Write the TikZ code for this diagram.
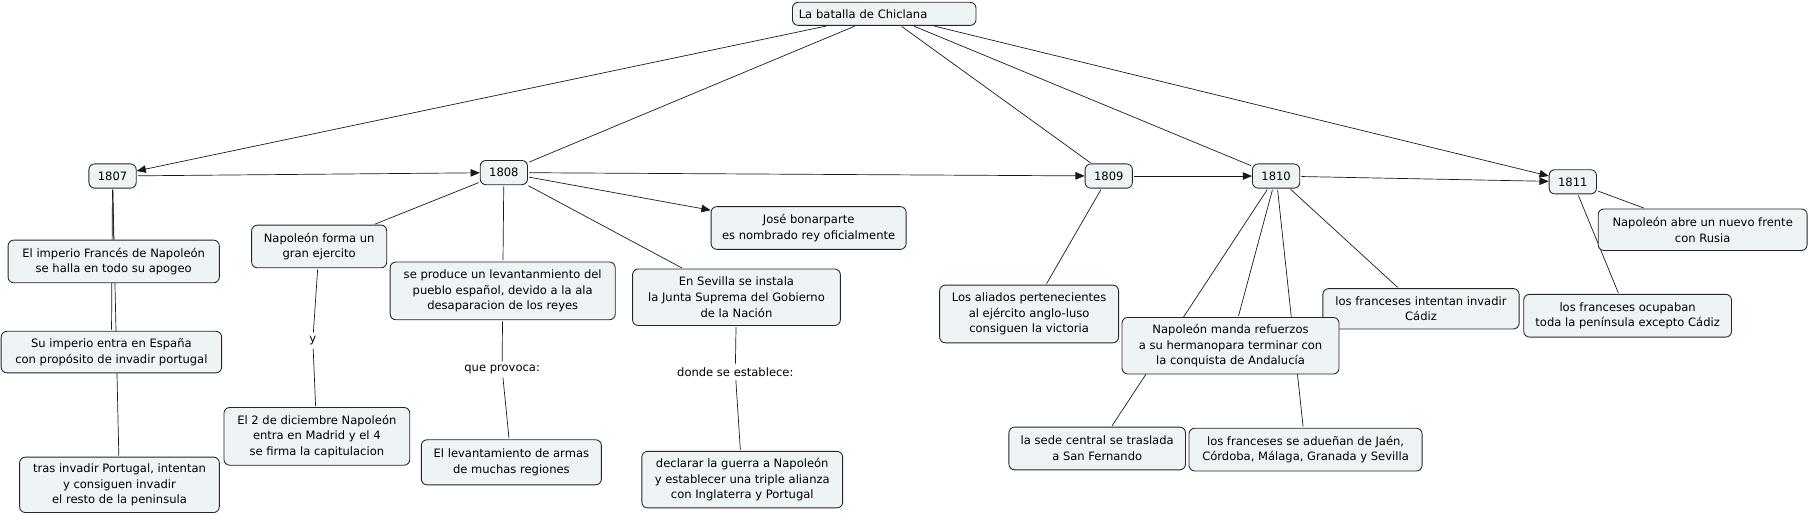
\documentclass[tikz,border=0pt]{standalone}
\usepackage{fontspec}
\setmainfont{DejaVu Sans}
\usetikzlibrary{arrows.meta,backgrounds}
\definecolor{boxfill}{HTML}{EEF3F6}
\begin{document}
\begin{tikzpicture}[x=1pt,y=-1pt,
  box/.style={draw=black!85, fill=boxfill, rounded corners=5pt, line width=0.75pt,
    font=\fontsize{10}{13.5}\selectfont, align=center, inner sep=1pt},
  lbl/.style={font=\fontsize{10}{13.5}\selectfont, inner sep=2pt},
  conn/.style={draw=black!90, line width=0.6pt, shorten <=1pt, shorten >=1pt},
  arr/.style={conn, -{Triangle[length=8pt,width=6.5pt]}, shorten >=0pt}]
\useasboundingbox (0,0) rectangle (1568,447);

% main nodes
\node[box, minimum width=159pt, minimum height=20pt, text width=148pt, align=left] (root) at (766,12) {La batalla de Chiclana};
\node[box, minimum width=41pt, minimum height=21pt] (y1807) at (97.5,152.5) {1807};
\node[box, minimum width=41pt, minimum height=21pt] (y1808) at (436.5,149.5) {1808};
\node[box, minimum width=41pt, minimum height=21pt] (y1809) at (960.5,152.5) {1809};
\node[box, minimum width=41pt, minimum height=21pt] (y1810) at (1105.5,152.5) {1810};
\node[box, minimum width=41pt, minimum height=21pt] (y1811) at (1362.5,157.5) {1811};

\node[box, minimum width=183pt, minimum height=37pt] (n7) at (98.5,226.5) {El imperio Francés de Napoleón\\se halla en todo su apogeo};
\node[box, minimum width=191pt, minimum height=36pt] (n8) at (96.5,305) {Su imperio entra en España\\con propósito de invadir portugal};
\node[box, minimum width=173pt, minimum height=48pt] (n9) at (103.5,420) {tras invadir Portugal, intentan\\y consiguen invadir\\el resto de la peninsula};
\node[box, minimum width=117pt, minimum height=37pt] (n10) at (276.5,213.5) {Napoleón forma un\\gran ejercito};
\node[box, minimum width=161pt, minimum height=50pt] (n11) at (274.5,378) {El 2 de diciembre Napoleón\\entra en Madrid y el 4\\se firma la capitulacion};
\node[box, minimum width=195pt, minimum height=50pt] (n12) at (435.5,252) {se produce un levantanmiento del\\pueblo español, devido a la ala\\desaparacion de los reyes};
\node[box, minimum width=156pt, minimum height=39pt] (n13) at (443,400.5) {El levantamiento de armas\\de muchas regiones};
\node[box, minimum width=180pt, minimum height=49pt] (n14) at (638,257.5) {En Sevilla se instala\\la Junta Suprema del Gobierno\\de la Nación};
\node[box, minimum width=174pt, minimum height=49pt] (n15) at (643,415.5) {declarar la guerra a Napoleón\\y establecer una triple alianza\\con Inglaterra y Portugal};
\node[box, minimum width=169pt, minimum height=37pt] (n16) at (700.5,197.5) {José bonarparte\\es nombrado rey oficialmente};
\node[box, minimum width=155pt, minimum height=50pt] (n17) at (891.5,272) {Los aliados pertenecientes\\al ejército anglo-luso\\consiguen la victoria};
\node[box, minimum width=170pt, minimum height=35pt] (n19) at (1231,267.5) {los franceses intentan invadir\\Cádiz};
\node[box, minimum width=188pt, minimum height=49pt] (n18) at (1066,299.5) {Napoleón manda refuerzos\\a su hermanopara terminar con\\la conquista de Andalucía};
\node[box, minimum width=153pt, minimum height=37pt] (n20) at (950.5,388.5) {la sede central se traslada\\a San Fernando};
\node[box, minimum width=202pt, minimum height=37pt] (n21) at (1131,389.5) {los franceses se adueñan de Jaén,\\Córdoba, Málaga, Granada y Sevilla};
\node[box, minimum width=181pt, minimum height=36pt] (n22) at (1475,199) {Napoleón abre un nuevo frente\\con Rusia};
\node[box, minimum width=180pt, minimum height=37pt] (n23) at (1410,273.5) {los franceses ocupaban\\toda la península excepto Cádiz};

% linking phrases
\node[lbl] (ly) at (271,295) {y};
\node[lbl] (lq) at (435,320) {que provoca:};
\node[lbl] (ld) at (637,322) {donde se establece:};

\begin{scope}[on background layer]
\fill[white] (0,0) rectangle (1568,447);
\draw[arr] (root) -- (y1807);
\draw[conn] (root) -- (y1808);
\draw[conn] (root) -- (y1809);
\draw[conn] (root) -- (y1810);
\draw[arr] (root) -- (y1811);
\draw[arr] (y1807) -- (y1808);
\draw[arr] (y1808) -- (y1809);
\draw[arr] (y1809) -- (y1810);
\draw[arr] (y1810) -- (y1811);
\draw[arr] (y1808) -- (n16);
\draw[conn] (y1808) -- (n10);
\draw[conn] (y1808) -- (n12);
\draw[conn] (y1808) -- (n14);
\draw[conn] (y1807) -- (n7);
\draw[conn] (y1807) -- (n8);
\draw[conn] (y1807) -- (n9);
\draw[conn] (n10) -- (ly);
\draw[conn] (ly) -- (n11);
\draw[conn] (n12) -- (lq);
\draw[conn] (lq) -- (n13);
\draw[conn] (n14) -- (ld);
\draw[conn] (ld) -- (n15);
\draw[conn] (y1809) -- (n17);
\draw[conn] (y1810) -- (n18);
\draw[conn] (y1810) -- (n20);
\draw[conn] (y1810) -- (n21);
\draw[conn] (y1810) -- (n19);
\draw[conn] (y1811) -- (n22);
\draw[conn] (y1811) -- (n23);
\end{scope}
\end{tikzpicture}
\end{document}
